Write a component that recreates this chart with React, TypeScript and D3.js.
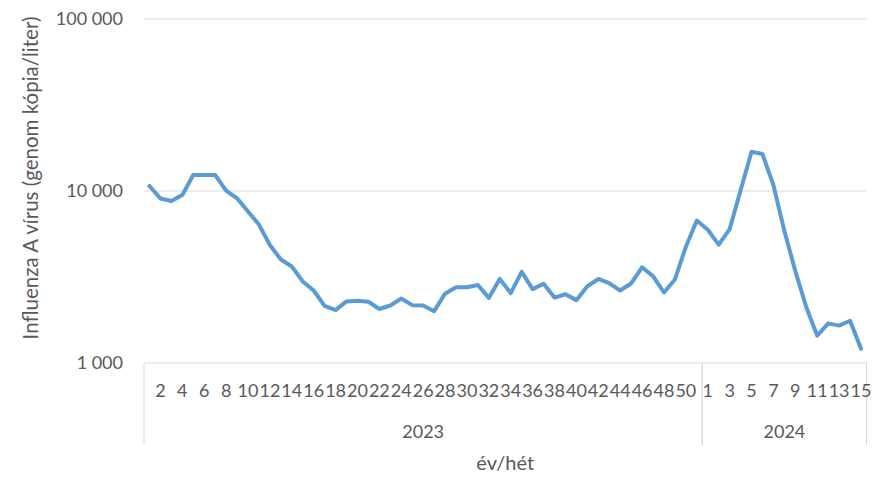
import React from "react";
import * as d3 from "d3";

const years = ["2023", "2024"];
const weeks2023 = d3.range(1, 52);
const weeks2024 = d3.range(1, 16);
const values2023 = [
  10700, 9050, 8750, 9480, 12400, 12400, 12400, 10050, 9070, 7600,
  6380, 4850, 4000, 3640, 2980, 2640, 2150, 2030, 2280, 2300,
  2270, 2060, 2160, 2370, 2170, 2160, 2000, 2530, 2760, 2760,
  2840, 2390, 3080, 2550, 3390, 2690, 2890, 2400, 2510, 2320,
  2790, 3080, 2910, 2640, 2900, 3600, 3200, 2570, 3060, 4740, 6730,
];
const values2024 = [
  5950, 4880, 6000, 10100, 16900, 16400, 10800, 5850, 3420, 2110,
  1440, 1700, 1650, 1760, 1210,
];
const yTicks = [1000, 10000, 100000];
const yTitle = "Influenza A vírus (genom kópia/liter)";
const xTitle = "év/hét";

type Pt = { year: string; week: number; value: number; idx: number };

const points: Pt[] = [
  ...weeks2023.map((w, i) => ({ year: years[0], week: w, value: values2023[i], idx: 0 })),
  ...weeks2024.map((w, i) => ({ year: years[1], week: w, value: values2024[i], idx: 0 })),
].map((p, i) => ({ ...p, idx: i }));

const W = 885;
const H = 491;
const left = 144;
const right = 866.5;
const top = 19;
const bottom = 363;
const font = "Lato, 'Open Sans', sans-serif";
const textColor = "#595959";
const gridColor = "#D9D9D9";

export default function App() {
  const x = d3
    .scaleBand<number>()
    .domain(points.map((p) => p.idx))
    .range([left, right])
    .padding(0);
  const bw = x.bandwidth();
  const cx = (i: number) => (x(i) as number) + bw / 2;
  const y = d3.scaleLog().domain([1000, 100000]).range([bottom, top]);

  const line = d3
    .line<Pt>()
    .x((p) => cx(p.idx))
    .y((p) => y(p.value));

  const fmt = (v: number) => d3.format(",")(v).replace(/,/g, " ");

  const groups = years.map((yr) => {
    const ps = points.filter((p) => p.year === yr);
    const x0 = x(ps[0].idx) as number;
    const x1 = (x(ps[ps.length - 1].idx) as number) + bw;
    return { yr, x0, x1 };
  });

  return (
    <svg width={W} height={H} style={{ display: "block", position: "absolute", left: 0, top: 0 }}>
      <rect width={W} height={H} fill="#fff" />
      {yTicks.map((t) => (
        <g key={t}>
          <line x1={left} x2={right} y1={y(t)} y2={y(t)} stroke={gridColor} strokeWidth={1} />
          <text
            x={123}
            y={y(t)}
            dy="0.36em"
            textAnchor="end"
            fontFamily={font}
            fontSize={18}
            fill={textColor}
          >
            {fmt(t)}
          </text>
        </g>
      ))}
      {groups.map((g) => (
        <g key={g.yr}>
          <line x1={g.x0} x2={g.x0} y1={bottom} y2={445} stroke={gridColor} strokeWidth={1} />
          <line x1={g.x1} x2={g.x1} y1={bottom} y2={445} stroke={gridColor} strokeWidth={1} />
          <text
            x={(g.x0 + g.x1) / 2}
            y={438}
            textAnchor="middle"
            fontFamily={font}
            fontSize={18}
            fill={textColor}
          >
            {g.yr}
          </text>
        </g>
      ))}
      {points
        .filter((p) => (p.idx + 1) % 2 === 0)
        .map((p) => (
          <text
            key={p.idx}
            x={cx(p.idx)}
            y={397}
            textAnchor="middle"
            fontFamily={font}
            fontSize={18}
            fill={textColor}
          >
            {p.week}
          </text>
        ))}
      <path
        d={line(points) || ""}
        fill="none"
        stroke="#5B9BD5"
        strokeWidth={4}
        strokeLinejoin="round"
        strokeLinecap="round"
      />
      <text
        transform={`translate(38,178) rotate(-90)`}
        textAnchor="middle"
        fontFamily={font}
        fontSize={20.5}
        fill={textColor}
      >
        {yTitle}
      </text>
      <text
        x={(left + right) / 2}
        y={470}
        textAnchor="middle"
        fontFamily={font}
        fontSize={20}
        fill={textColor}
      >
        {xTitle}
      </text>
    </svg>
  );
}
